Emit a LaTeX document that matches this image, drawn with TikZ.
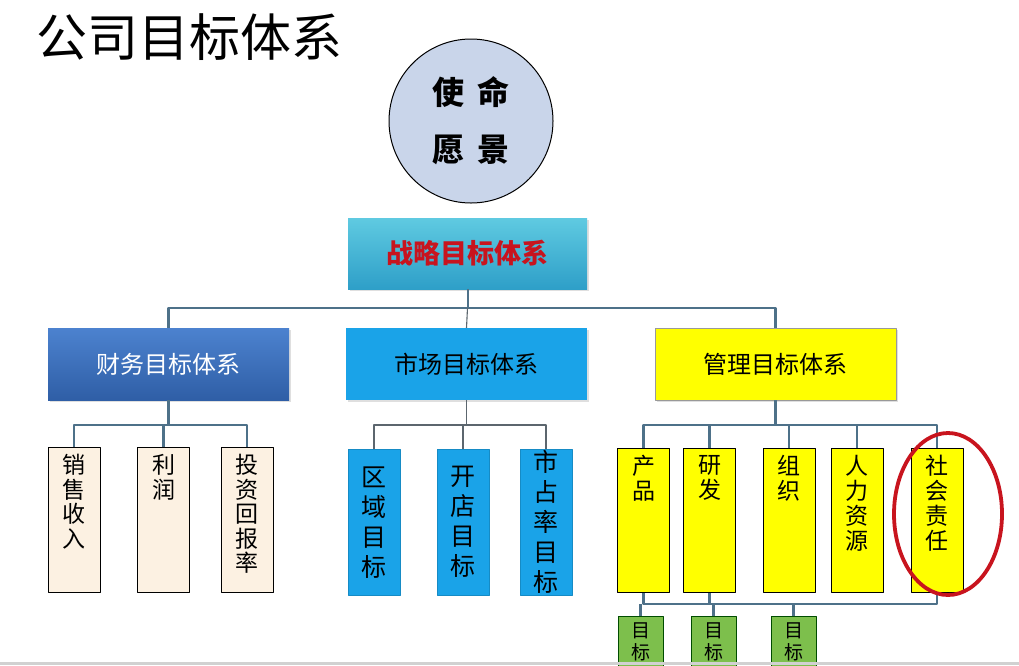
\documentclass[tikz,border=0pt]{standalone}
\usepackage{fontspec}
\setmainfont{Noto Sans CJK SC}
\usepackage{tikz}
\usetikzlibrary{shadows}
\definecolor{steel}{HTML}{4E7189}
\definecolor{wire}{HTML}{5C666E}
\definecolor{mistblue}{HTML}{C9D5EA}
\definecolor{cream}{HTML}{FCF1E2}
\definecolor{sky}{HTML}{1AA3E8}
\definecolor{tealtop}{HTML}{5FCAE1}
\definecolor{tealbot}{HTML}{2E9FC8}
\definecolor{oceantop}{HTML}{4C82CF}
\definecolor{oceanbot}{HTML}{2F5EA6}
\definecolor{lemon}{HTML}{FFFF00}
\definecolor{leaf}{HTML}{7DBF4C}
\definecolor{alarm}{HTML}{C8141E}
\newcommand{\fs}[2]{\fontsize{#1}{#2}\selectfont}
\newcommand{\stack}[3]{\parbox[t][#1][t]{1.2em}{\centering\vspace*{#2}#3}}

\begin{document}
\begin{tikzpicture}[x=1pt,y=-1pt,line join=round,
  bus/.style={draw=steel,line width=2.6pt},
  thinbus/.style={draw=wire,line width=1.1pt},
  head/.style={minimum width=241pt,minimum height=72pt,inner sep=0pt,drop shadow={opacity=0.25,shadow xshift=1.5pt,shadow yshift=-2pt}},
  finleaf/.style={draw=black,fill=cream,line width=0.9pt,minimum width=52pt,anchor=north,inner sep=0pt,font=\fs{23}{24.5}},
  mktleaf/.style={draw=sky!85!black,fill=sky,line width=0.5pt,minimum width=52pt,minimum height=146pt,anchor=north,inner sep=0pt,align=center,font=\fs{25}{30}},
  mgtleaf/.style={draw=black,fill=lemon,line width=0.9pt,minimum width=52pt,anchor=north,inner sep=0pt,font=\fs{23}{25}},
  goal/.style={draw=black!70!green,fill=leaf,line width=0.9pt,minimum width=45pt,anchor=north,inner sep=0pt,font=\fs{19}{22}}]
  \useasboundingbox[fill=white] (0,0) rectangle (1019,665);
  \node[anchor=west,font=\fs{51}{51}] (title) at (33,37) {公司目标体系};
  \node[circle,draw=black,line width=1pt,fill=mistblue,minimum size=164pt,align=center,font=\fs{32}{57}\bfseries] (vision) at (471,121) {使\hspace{13pt}命\\愿\hspace{13pt}景};
  \node[head,minimum width=239pt,minimum height=71pt,top color=tealtop,bottom color=tealbot,text=alarm,font=\fs{27}{27}\bfseries] (strat) at (467.5,253.5) {战略目标体系};
  \node[head,top color=oceantop,bottom color=oceanbot,text=white,font=\fs{24}{24}] (fin) at (168.5,364) {财务目标体系};
  \node[head,fill=sky,font=\fs{24}{24}] (mkt) at (466.5,364) {市场目标体系};
  \node[head,draw=black!40,fill=lemon,font=\fs{24}{24}] (mgt) at (775.5,364) {管理目标体系};
  \coordinate (busA) at (0,308);
  \coordinate (busB) at (0,425);
  \coordinate (busC) at (0,604);
  \draw[bus] (fin.north) -- (fin.north |- busA) -| (mgt.north);
  \draw[bus,line width=2pt] (strat.south) -- (strat.south |- busA);
  \draw[thinbus] (strat.south |- busA) -- (mkt.north);
  \foreach \n/\x/\t in {f1/74/{销\\售\\收\\入},f2/163.5/{利\\润},f3/247/{投\\资\\回\\报\\率}}{\node[finleaf] (\n) at (\x,447) {\stack{145pt}{7pt}{\t}};}
  \foreach \n/\x/\t in {m1/374/{区\\域\\目\\标},m2/463/{开\\店\\目\\标},m3/546/{市\\占\\率\\目\\标}}{\node[mktleaf] (\n) at (\x,449) {\t};}
  \foreach \n/\x/\t in {g1/643.5/{产\\品},g2/709.5/{研\\发},g3/789/{组\\织},g4/857/{人\\力\\资\\源},g5/937/{社\\会\\责\\任}}{\node[mgtleaf] (\n) at (\x,448) {\stack{144pt}{7pt}{\t}};}
  \foreach \n/\x in {t1/640.5,t2/713.5,t3/793.5}{\node[goal] (\n) at (\x,616) {\stack{70pt}{6pt}{目\\标}};}
  \draw[bus] (fin.south) -- (fin.south |- busB);
  \draw[bus] (f1.north) -- (f1.north |- busB) -| (f3.north);
  \draw[bus] (f2.north) -- (f2.north |- busB);
  \draw[thinbus] (mkt.south) -- (mkt.south |- busB);
  \draw[thinbus] (m1.north) -- (m1.north |- busB) -| (m3.north);
  \draw[thinbus] (m2.north) -- (m2.north |- busB);
  \draw[bus] (mgt.south) -- (mgt.south |- busB);
  \draw[bus] (g1.north) -- (g1.north |- busB) -| (g5.north);
  \foreach \n in {g2,g3,g4}{\draw[bus] (\n.north) -- (\n.north |- busB);}
  \draw[bus] (g1.south) -- (g1.south |- busC) -| (g5.south);
  \draw[bus] (g2.south) -- (g2.south |- busC);
  \foreach \n in {t1,t2,t3}{\draw[bus] (\n.north) -- (\n.north |- busC);}
  \draw[alarm,line width=3.8pt] (948,514) ellipse [x radius=54,y radius=81];
  \fill[black!18] (0,661.5) rectangle (1019,665);
\end{tikzpicture}
\end{document}
